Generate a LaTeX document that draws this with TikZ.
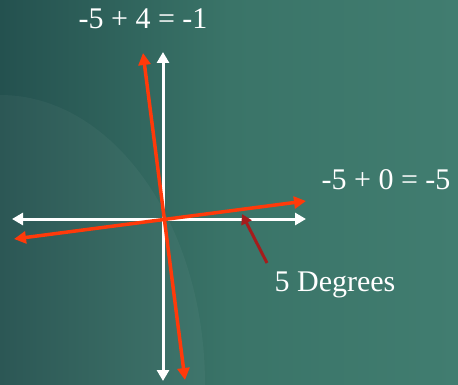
\documentclass[tikz,border=0pt]{standalone}
\usepackage{fontspec}
\setmainfont{Liberation Serif}
\usetikzlibrary{arrows.meta}
\definecolor{bgdark}{HTML}{24514F}
\definecolor{bgmid}{HTML}{3A7468}
\definecolor{bglight}{HTML}{417D70}
\definecolor{redline}{HTML}{FF3A0A}
\definecolor{darkred}{HTML}{A51C1C}
\tikzset{
  axis/.style={white, line width=3pt, {Triangle[width=12pt,length=11pt]}-{Triangle[width=12pt,length=11pt]}},
  rot/.style={redline, line width=3.5pt, {Triangle[width=12pt,length=12pt]}-{Triangle[width=12pt,length=12pt]}},
  pointer/.style={darkred, line width=3pt, -{Triangle[width=11pt,length=10pt]}},
  lbl/.style={text=white, font=\fontsize{30pt}{32pt}\selectfont, inner sep=0pt}
}
\begin{document}
\begin{tikzpicture}[x=1pt,y=-1pt]
  \useasboundingbox (0,0) rectangle (458,385);
  \shade[left color=bgdark, right color=bglight, middle color=bgmid] (0,0) rectangle (458,385);
  \begin{scope}
    \clip (0,0) rectangle (458,385);
    \fill[white, opacity=0.04] (0,385) ellipse [x radius=205, y radius=290];
  \end{scope}
  % axes
  \coordinate (vt) at (163,52);
  \coordinate (vb) at (163,381);
  \coordinate (hl) at (12,219);
  \coordinate (hr) at (306,219);
  \draw[axis] (vb) -- (vt);
  \draw[axis] (hl) -- (hr);
  % rotated axes
  \coordinate (rt) at (143,53);
  \coordinate (rb) at (185,380);
  \coordinate (rl) at (14,239);
  \coordinate (rr) at (306,201);
  \draw[rot] (rb) -- (rt);
  \draw[rot] (rl) -- (rr);
  % labels
  \node[lbl] (top) at (143,19) {-5 + 4 = -1};
  \node[lbl] (right) at (386,180) {-5 + 0 = -5};
  \node[lbl] (deg) at (335,285) {5 Degrees};
  \coordinate (ptail) at (267,263);
  \coordinate (ptip) at (242,214);
  \draw[pointer] (ptail) -- (ptip);
\end{tikzpicture}
\end{document}
